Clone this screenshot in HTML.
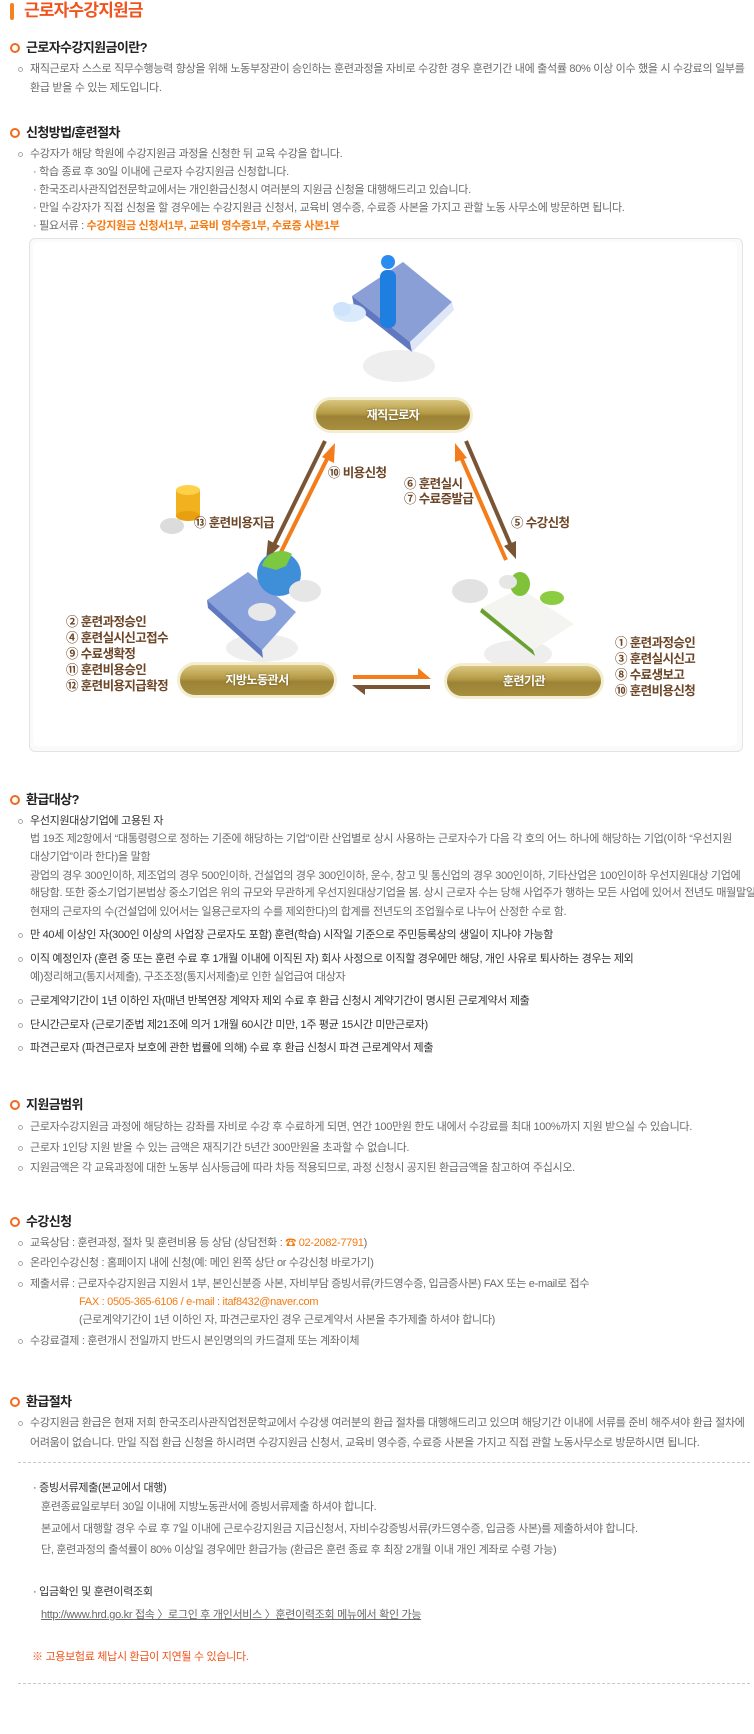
<!DOCTYPE html>
<html><head><meta charset="utf-8">
<style>
body{margin:0;width:754px;height:1734px;background:#fff;position:relative;overflow:hidden;font-family:"Liberation Sans","Noto Sans CJK KR",sans-serif;}
.t{position:absolute;white-space:nowrap;font-size:11px;line-height:16px;color:#6a6a6a;letter-spacing:-0.3px;}
.d{color:#333;}
.h{position:absolute;white-space:nowrap;font-size:13px;line-height:16px;color:#222;font-weight:bold;letter-spacing:-0.6px;}
.ic{position:absolute;width:6px;height:6px;border:2.5px solid #f26b1d;border-radius:50%;}
.b{position:absolute;width:3px;height:3px;border:1px solid #aaa;border-radius:50%;}
.o{color:#f57a12;}
.pill{position:absolute;height:36px;border-radius:18px;background:#f3edd2;}
.pill div{position:absolute;left:3px;right:3px;top:3px;bottom:3px;border-radius:15px;background:linear-gradient(#d9c57e 0%,#b49a45 45%,#9c8236 55%,#a88f3e 100%);color:#fff;font-size:12px;font-weight:bold;text-align:center;line-height:30px;letter-spacing:-0.5px;text-shadow:0 0 2px #6d5a20;}
.lb{position:absolute;white-space:nowrap;font-size:12.5px;line-height:16px;color:#6b4526;font-weight:bold;letter-spacing:-0.6px;}
.dash{position:absolute;left:18px;width:732px;border-top:1px dashed #c8c8c8;}
</style></head><body>

<div style="position:absolute;left:10px;top:3px;width:4px;height:17px;background:#f58220;border-radius:2px;"></div>
<div style="position:absolute;left:24px;top:0;font-size:17px;line-height:22px;color:#f0541c;font-weight:bold;letter-spacing:-0.8px;">근로자수강지원금</div>

<div class="ic" style="left:10px;top:43px"></div><div class="h" style="left:26px;top:40px">근로자수강지원금이란?</div>
<div class="b" style="left:18px;top:67px"></div>
<div class="t" style="left:30px;top:61px">재직근로자 스스로 직무수행능력 향상을 위해 노동부장관이 승인하는 훈련과정을 자비로 수강한 경우 훈련기간 내에 출석률 80% 이상 이수 했을 시 수강료의 일부를</div>
<div class="t" style="left:30px;top:80px">환급 받을 수 있는 제도입니다.</div>

<div class="ic" style="left:10px;top:128px"></div><div class="h" style="left:26px;top:125px">신청방법/훈련절차</div>
<div class="b" style="left:18px;top:152px"></div>
<div class="t" style="left:30px;top:146px">수강자가 해당 학원에 수강지원금 과정을 신청한 뒤 교육 수강을 합니다.</div>
<div class="t" style="left:33px;top:164px">· 학습 종료 후 30일 이내에 근로자 수강지원금 신청합니다.</div>
<div class="t" style="left:33px;top:182px">· 한국조리사관직업전문학교에서는 개인환급신청시 여러분의 지원금 신청을 대행해드리고 있습니다.</div>
<div class="t" style="left:33px;top:200px">· 만일 수강자가 직접 신청을 할 경우에는 수강지원금 신청서, 교육비 영수증, 수료증 사본을 가지고 관할 노동 사무소에 방문하면 됩니다.</div>
<div class="t" style="left:33px;top:218px">· 필요서류 : <span class="o" style="font-weight:bold">수강지원금 신청서1부, 교육비 영수증1부, 수료증 사본1부</span></div>

<div style="position:absolute;left:29px;top:238px;width:712px;height:512px;border:1px solid #e4e4e4;border-radius:6px;background:#fafafa;"></div>
<div style="position:absolute;left:33px;top:242px;width:704px;height:504px;border-radius:5px;background:#fff;"></div>
<svg style="position:absolute;left:0;top:0" width="754" height="760">
 <ellipse cx="399" cy="366" rx="36" ry="16" fill="#eeeeee"/>
 <polygon points="352,296 403,262 452,302 410,342" fill="#8a9fd6"/>
 <polygon points="352,296 410,342 412,352 354,306" fill="#5f78c0"/>
 <polygon points="410,342 452,302 454,310 412,352" fill="#dfe6f8"/>
 <rect x="380" y="270" width="16" height="58" rx="7" fill="#1f7fe0"/>
 <circle cx="388" cy="262" r="7" fill="#2a8cf0"/>
 <ellipse cx="350" cy="313" rx="16" ry="9" fill="#d8eafb"/>
 <ellipse cx="342" cy="309" rx="9" ry="7" fill="#cfe4fa"/>
 <ellipse cx="172" cy="526" rx="12" ry="8" fill="#dcdcdc"/>
 <rect x="176" y="490" width="24" height="26" fill="#f0b21e"/>
 <ellipse cx="188" cy="516" rx="12" ry="5" fill="#e8a010"/>
 <ellipse cx="188" cy="490" rx="12" ry="5" fill="#ffd04a"/>
 <line x1="325" y1="441" x2="273" y2="547" stroke="#7a5535" stroke-width="4"/>
 <polygon points="266,560 268,540 280,546" fill="#7a5535"/>
 <line x1="277" y1="560" x2="329" y2="455" stroke="#f57c1a" stroke-width="4"/>
 <polygon points="335,443 334,463 322,457" fill="#f57c1a"/>
 <line x1="506" y1="560" x2="460" y2="455" stroke="#f57c1a" stroke-width="4"/>
 <polygon points="455,443 467,458 455,462" fill="#f57c1a"/>
 <line x1="466" y1="441" x2="511" y2="546" stroke="#7a5535" stroke-width="4"/>
 <polygon points="516,559 504,546 516,541" fill="#7a5535"/>
 <rect x="353" y="675" width="70" height="4" fill="#f57c1a"/><polygon points="418,668 431,679 418,679" fill="#f57c1a"/>
 <rect x="362" y="685" width="68" height="4" fill="#7a5535"/><polygon points="365,695 352,685 365,685" fill="#7a5535"/>
 <ellipse cx="262" cy="648" rx="36" ry="14" fill="#eeeeee"/>
 <polygon points="207,600 248,572 296,612 262,650" fill="#8aa2dc"/>
 <polygon points="207,600 262,650 263,658 208,608" fill="#5f78c0"/>
 <circle cx="279" cy="574" r="22" fill="#3f8fd8"/>
 <path d="M262,566 a20,20 0 0 1 30,-12 l-6,12 -10,4 z" fill="#7cc840"/>
 <ellipse cx="305" cy="591" rx="16" ry="11" fill="#e6e6e6"/>
 <ellipse cx="262" cy="612" rx="14" ry="9" fill="#e8e8e8"/>
 <ellipse cx="518" cy="654" rx="34" ry="14" fill="#eeeeee"/>
 <polygon points="482,608 520,588 574,624 533,650" fill="#f4f4f0"/>
 <polygon points="482,608 533,650 535,656 480,612" fill="#6aa030"/>
 <ellipse cx="470" cy="591" rx="18" ry="12" fill="#e2e2e2"/>
 <ellipse cx="520" cy="584" rx="10" ry="12" fill="#7fc23a"/>
 <ellipse cx="552" cy="598" rx="12" ry="7" fill="#8ccc40"/>
 <ellipse cx="508" cy="582" rx="9" ry="7" fill="#e6e6e6"/>
</svg>
<div class="pill" style="left:313px;top:397px;width:160px"><div>재직근로자</div></div>
<div class="pill" style="left:177px;top:662px;width:160px"><div>지방노동관서</div></div>
<div class="pill" style="left:444px;top:663px;width:160px"><div>훈련기관</div></div>

<div class="lb o" style="left:328px;top:465px">⑩ 비용신청</div>
<div class="lb o" style="left:404px;top:476px">⑥ 훈련실시</div>
<div class="lb o" style="left:404px;top:491px">⑦ 수료증발급</div>
<div class="lb" style="left:511px;top:515px">⑤ 수강신청</div>
<div class="lb" style="left:194px;top:515px">⑬ 훈련비용지급</div>
<div class="lb" style="left:66px;top:614px;line-height:16px">② 훈련과정승인<br>④ 훈련실시신고접수<br>⑨ 수료생확정<br>⑪ 훈련비용승인<br>⑫ 훈련비용지급확정</div>
<div class="lb" style="left:615px;top:635px;line-height:16px">① 훈련과정승인<br>③ 훈련실시신고<br>⑧ 수료생보고<br>⑩ 훈련비용신청</div>

<div class="ic" style="left:10px;top:795px"></div><div class="h" style="left:26px;top:792px">환급대상?</div>
<div class="b" style="left:18px;top:819px"></div>
<div class="t d" style="left:30px;top:813px">우선지원대상기업에 고용된 자</div>
<div class="t" style="left:30px;top:831px">법 19조 제2항에서 “대통령령으로 정하는 기준에 해당하는 기업”이란 산업별로 상시 사용하는 근로자수가 다음 각 호의 어느 하나에 해당하는 기업(이하 “우선지원</div>
<div class="t" style="left:30px;top:849px">대상기업”이라 한다)을 말함</div>
<div class="t" style="left:30px;top:868px">광업의 경우 300인이하, 제조업의 경우 500인이하, 건설업의 경우 300인이하, 운수, 창고 및 통신업의 경우 300인이하, 기타산업은 100인이하 우선지원대상 기업에</div>
<div class="t" style="left:30px;top:885px">해당함. 또한 중소기업기본법상 중소기업은 위의 규모와 무관하게 우선지원대상기업을 봄. 상시 근로자 수는 당해 사업주가 행하는 모든 사업에 있어서 전년도 매월말일</div>
<div class="t" style="left:30px;top:904px">현재의 근로자의 수(건설업에 있어서는 일용근로자의 수를 제외한다)의 합계를 전년도의 조업월수로 나누어 산정한 수로 함.</div>
<div class="b" style="left:18px;top:933px"></div>
<div class="t d" style="left:30px;top:927px">만 40세 이상인 자(300인 이상의 사업장 근로자도 포함) 훈련(학습) 시작일 기준으로 주민등록상의 생일이 지나야 가능함</div>
<div class="b" style="left:18px;top:957px"></div>
<div class="t d" style="left:30px;top:951px">이직 예정인자 (훈련 중 또는 훈련 수료 후 1개월 이내에 이직된 자) 회사 사정으로 이직할 경우에만 해당, 개인 사유로 퇴사하는 경우는 제외</div>
<div class="t" style="left:30px;top:969px">예)정리해고(통지서제출), 구조조정(통지서제출)로 인한 실업급여 대상자</div>
<div class="b" style="left:18px;top:999px"></div>
<div class="t d" style="left:30px;top:993px">근로계약기간이 1년 이하인 자(매년 반복연장 계약자 제외 수료 후 환급 신청시 계약기간이 명시된 근로계약서 제출</div>
<div class="b" style="left:18px;top:1023px"></div>
<div class="t d" style="left:30px;top:1017px">단시간근로자 (근로기준법 제21조에 의거 1개월 60시간 미만, 1주 평균 15시간 미만근로자)</div>
<div class="b" style="left:18px;top:1046px"></div>
<div class="t d" style="left:30px;top:1040px">파견근로자 (파견근로자 보호에 관한 법률에 의해) 수료 후 환급 신청시 파견 근로계약서 제출</div>

<div class="ic" style="left:10px;top:1100px"></div><div class="h" style="left:26px;top:1097px">지원금범위</div>
<div class="b" style="left:18px;top:1125px"></div>
<div class="t" style="left:30px;top:1119px">근로자수강지원금 과정에 해당하는 강좌를 자비로 수강 후 수료하게 되면, 연간 100만원 한도 내에서 수강료를 최대 100%까지 지원 받으실 수 있습니다.</div>
<div class="b" style="left:18px;top:1146px"></div>
<div class="t" style="left:30px;top:1140px">근로자 1인당 지원 받을 수 있는 금액은 재직기간 5년간 300만원을 초과할 수 없습니다.</div>
<div class="b" style="left:18px;top:1166px"></div>
<div class="t" style="left:30px;top:1160px">지원금액은 각 교육과정에 대한 노동부 심사등급에 따라 차등 적용되므로, 과정 신청시 공지된 환급금액을 참고하여 주십시오.</div>

<div class="ic" style="left:10px;top:1217px"></div><div class="h" style="left:26px;top:1214px">수강신청</div>
<div class="b" style="left:18px;top:1241px"></div>
<div class="t" style="left:30px;top:1235px">교육상담 : 훈련과정, 절차 및 훈련비용 등 상담 (상담전화 : <span class="o">☎ 02-2082-7791</span>)</div>
<div class="b" style="left:18px;top:1261px"></div>
<div class="t" style="left:30px;top:1255px">온라인수강신청 : 홈페이지 내에 신청(예: 메인 왼쪽 상단 or 수강신청 바로가기)</div>
<div class="b" style="left:18px;top:1282px"></div>
<div class="t" style="left:30px;top:1276px">제출서류 : 근로자수강지원금 지원서 1부, 본인신분증 사본,  자비부담 증빙서류(카드영수증, 입금증사본) FAX 또는 e-mail로 접수</div>
<div class="t o" style="left:79px;top:1294px">FAX : 0505-365-6106 / e-mail : itaf8432@naver.com</div>
<div class="t" style="left:79px;top:1312px">(근로계약기간이 1년 이하인 자, 파견근로자인 경우 근로계약서 사본을 추가제출 하셔야 합니다)</div>
<div class="b" style="left:18px;top:1339px"></div>
<div class="t" style="left:30px;top:1333px">수강료결제 : 훈련개시 전일까지 반드시 본인명의의 카드결제 또는 계좌이체</div>

<div class="ic" style="left:10px;top:1397px"></div><div class="h" style="left:26px;top:1394px">환급절차</div>
<div class="b" style="left:18px;top:1421px"></div>
<div class="t" style="left:30px;top:1415px">수강지원금 환급은 현재 저희 한국조리사관직업전문학교에서 수강생 여러분의 환급 절차를 대행해드리고 있으며 해당기간 이내에 서류를 준비 해주셔야 환급 절차에</div>
<div class="t" style="left:30px;top:1435px">어려움이 없습니다. 만일 직접 환급 신청을 하시려면 수강지원금 신청서, 교육비 영수증, 수료증 사본을 가지고 직접 관할 노동사무소로 방문하시면 됩니다.</div>
<div class="dash" style="top:1462px"></div>
<div class="t d" style="left:33px;top:1480px">· 증빙서류제출(본교에서 대행)</div>
<div class="t" style="left:41px;top:1499px">훈련종료일로부터 30일 이내에 지방노동관서에 증빙서류제출 하셔야 합니다.</div>
<div class="t" style="left:41px;top:1521px">본교에서 대행할 경우 수료 후 7일 이내에 근로수강지원금 지급신청서, 자비수강증빙서류(카드영수증, 입금증 사본)를 제출하셔야 합니다.</div>
<div class="t" style="left:41px;top:1542px">단, 훈련과정의 출석률이 80% 이상일 경우에만 환급가능 (환급은 훈련 종료 후 최장 2개월 이내 개인 계좌로 수령 가능)</div>
<div class="t d" style="left:33px;top:1584px">· 입금확인 및 훈련이력조회</div>
<div class="t" style="left:41px;top:1607px;text-decoration:underline">http://www.hrd.go.kr 접속 〉로그인 후 개인서비스 〉훈련이력조회 메뉴에서 확인 가능</div>
<div class="t" style="left:32px;top:1649px;color:#f0541c">※ 고용보험료 체납시 환급이 지연될 수 있습니다.</div>
<div class="dash" style="top:1683px"></div>
</body></html>
